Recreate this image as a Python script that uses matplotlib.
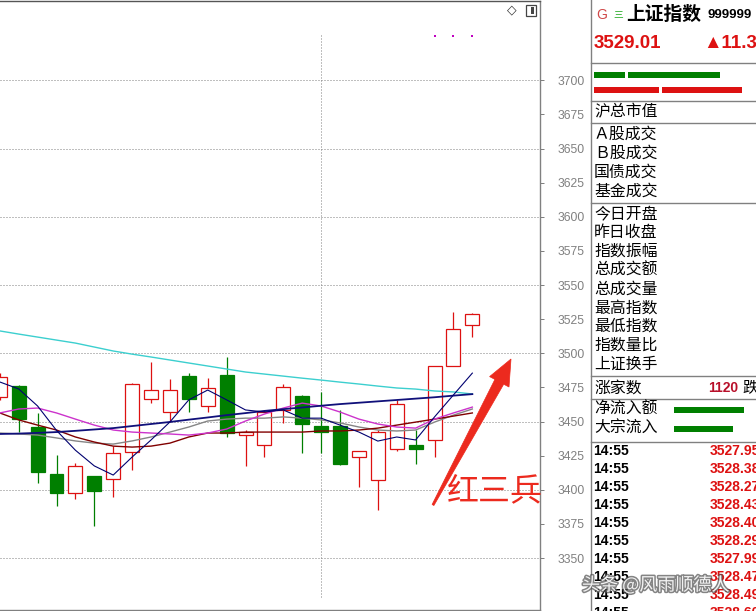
import numpy as np
import matplotlib
matplotlib.use('Agg')
import matplotlib.pyplot as plt
from matplotlib.patches import Polygon, Rectangle
import matplotlib.patheffects as pe

plt.rcParams['font.family'] = ['Noto Sans CJK SC', 'DejaVu Sans']

# daily candles, oldest first (index 0 is cut by the left edge)
opens  = [3468.0, 3475.9, 3446.0, 3411.5, 3397.6, 3410.1, 3407.9, 3427.7, 3466.6, 3457.0,
          3483.3, 3461.4, 3484.1, 3440.1, 3432.8, 3458.5, 3468.7, 3446.7, 3446.7, 3424.0,
          3407.2, 3429.8, 3432.8, 3436.4, 3490.7, 3520.7]
highs  = [3485.5, 3476.8, 3456.2, 3425.4, 3419.5, 3410.1, 3431.9, 3478.2, 3493.6, 3481.1,
          3485.5, 3481.9, 3497.3, 3443.7, 3458.4, 3477.5, 3469.4, 3471.7, 3458.5, 3428.4,
          3443.7, 3465.8, 3443.7, 3490.7, 3530.2, 3529.5]
lows   = [3465.8, 3442.3, 3405.0, 3388.0, 3393.2, 3373.4, 3394.7, 3414.5, 3463.6, 3449.6,
          3457.0, 3457.0, 3438.7, 3417.4, 3424.0, 3448.9, 3426.9, 3426.9, 3418.1, 3402.0,
          3385.1, 3428.4, 3418.8, 3424.0, 3490.7, 3511.9]
closes = [3482.6, 3451.8, 3413.0, 3397.6, 3417.4, 3399.1, 3426.8, 3477.5, 3473.1, 3473.1,
          3466.6, 3474.6, 3441.6, 3442.3, 3457.0, 3475.3, 3448.2, 3442.3, 3418.8, 3428.4,
          3442.3, 3462.8, 3429.8, 3490.7, 3517.7, 3529.0]

# moving averages
ma5   = [3479.0, 3473.9, 3461.4, 3443.5, 3429.0, 3417.5, 3410.8, 3424.0, 3436.5, 3449.7,
         3465.9, 3473.1, 3465.9, 3458.5, 3457.0, 3458.5, 3452.5, 3452.5, 3447.4, 3442.3,
         3435.7, 3438.7, 3436.5, 3453.4, 3469.5, 3485.5]
ma10  = [3456.3, 3459.2, 3459.9, 3456.3, 3451.8, 3447.4, 3443.8, 3442.3, 3441.6, 3440.9,
         3440.1, 3441.6, 3444.5, 3450.4, 3455.5, 3459.9, 3463.5, 3461.4, 3457.0, 3451.8,
         3448.2, 3446.0, 3445.2, 3451.8, 3456.3, 3460.6]
ma20  = [3456.3, 3451.2, 3447.4, 3443.8, 3438.7, 3435.0, 3432.0, 3431.3, 3432.0, 3434.2,
         3438.7, 3441.6, 3441.6, 3442.3, 3442.3, 3442.3, 3442.3, 3443.1, 3443.1, 3443.8,
         3445.2, 3447.4, 3449.6, 3451.8, 3454.0, 3456.3]
ma30  = [3441.6, 3440.9, 3440.1, 3438.0, 3435.8, 3434.2, 3433.5, 3435.8, 3438.7, 3442.3,
         3446.0, 3450.4, 3451.8, 3452.5, 3452.5, 3453.4, 3452.5, 3451.2, 3449.0, 3446.0,
         3443.8, 3443.1, 3443.8, 3449.6, 3454.7, 3459.2]
ma60  = [3440.9, 3441.2, 3441.7, 3442.3, 3443.2, 3444.2, 3445.2, 3446.7, 3448.2, 3449.7,
         3451.4, 3453.0, 3454.7, 3456.2, 3457.8, 3459.1, 3460.3, 3461.6, 3462.8, 3463.8,
         3464.8, 3465.8, 3466.8, 3467.8, 3469.0, 3470.1]
ma250 = [3516.4, 3514.1, 3511.9, 3509.7, 3507.5, 3504.6, 3501.7, 3499.4, 3497.3, 3495.1,
         3492.9, 3490.7, 3488.5, 3486.3, 3484.8, 3483.3, 3481.8, 3480.4, 3478.9, 3477.5,
         3476.0, 3474.6, 3473.8, 3472.4, 3471.7, 3470.2]

signal_idx = [23, 24, 25]
signal_val = 3732.5
month_split = 17

yticks = list(range(3350, 3701, 25))
grid_levels = list(range(3350, 3701, 50))

# right-hand quote panel
title_name = '上证指数'
title_code = '999999'
last_price = '3529.01'
change_txt = '▲11.3'
group1 = ['Ａ股成交', 'Ｂ股成交', '国债成交', '基金成交']
group2 = ['今日开盘', '昨日收盘', '指数振幅', '总成交额', '总成交量',
          '最高指数', '最低指数', '指数量比', '上证换手']
up_count = '1120'
flow_labels = ['净流入额', '大宗流入']
flow_bars = [70, 59]
green_bars = [31, 92]
red_bars = [65, 80]
tick_times = ['14:55'] * 10
tick_prices = ['3527.95', '3528.38', '3528.27', '3528.43', '3528.40',
               '3528.29', '3527.99', '3528.47', '3528.49', '3528.60']

RED = '#dd1111'
GREEN = '#007f00'
GRAY = '#808080'

W, H = 756, 611
fig = plt.figure(figsize=(W / 100, H / 100), dpi=100)

# main chart ---------------------------------------------------------------
ax = fig.add_axes([0, 1.5 / H, 540 / W, 609 / H])
ax.set_xlim(0.0106, 28.58)
ax.set_ylim(3312.3, 3758.5)

for lv in grid_levels:
    ax.axhline(lv, color=GRAY, lw=0.72, dashes=(1, 2), zorder=1)
ax.vlines(month_split, 3321.5, 3734.7, color=GRAY, lw=0.72, linestyles=(0, (1, 2)), zorder=1)

idx = np.arange(len(opens))
o = np.array(opens)
c = np.array(closes)
up = c >= o
edge = np.where(up, RED, GREEN)
face = np.where(up, 'white', GREEN)
ax.vlines(idx, lows, highs, colors=edge, lw=0.9, zorder=2)
ax.bar(idx, np.maximum(np.abs(c - o), 0.4), bottom=np.minimum(o, c), width=0.74,
       color=face, edgecolor=edge, lw=0.9, zorder=3)

ax.plot(idx, ma250, color='#3ccfcf', lw=1.0, zorder=4)
ax.plot(idx, ma30, color='#858585', lw=1.0, zorder=4)
ax.plot(idx, ma20, color='#800000', lw=1.0, zorder=4)
ax.plot(idx, ma10, color='#cc33cc', lw=1.0, zorder=4)
ax.plot(idx, ma60, color='#10107a', lw=1.3, zorder=4)
ax.plot(idx, ma5, color='#000070', lw=0.8, zorder=5)

ax.scatter(signal_idx, [signal_val] * len(signal_idx), s=3, marker='s',
           color='#c000c0', lw=0, zorder=5)

ax.yaxis.tick_right()
ax.set_yticks(yticks)
ax.set_xticks([])
ax.tick_params(axis='y', direction='out', length=2.9, width=0.72, color=GRAY,
               labelcolor=GRAY, labelsize=8.7, pad=10)
for lbl in ax.get_yticklabels():
    lbl.set_fontfamily('Liberation Sans')
ax.spines['left'].set_visible(False)
ax.spines['top'].set_color('#555555')
ax.spines['right'].set_color(GRAY)
ax.spines['bottom'].set_color(GRAY)
for s in ('top', 'right', 'bottom'):
    ax.spines[s].set_linewidth(1.0)

# overlay in pixel units for annotations and the quote panel --------------
ov = fig.add_axes([0, 0, 1, 1], zorder=10)
ov.set_xlim(0, W)
ov.set_ylim(H, 0)
ov.axis('off')
ov.patch.set_alpha(0)

# red arrow and label
arrow = Polygon([(432.1, 504.5), (494.9, 379.4), (489.6, 376.6), (511, 359),
                 (509.0, 387.0), (503.7, 384.2), (433.9, 505.5)],
                closed=True, fc='#ec2a1e', ec='#ec2a1e', lw=0.5)
ov.add_patch(arrow)
ov.text(447, 491, '红三兵', color='#ec2a1e', fontsize=23, ha='left', va='center')

# little icons top right of the chart
ov.text(512, 10, '◇', fontsize=9, ha='center', va='center', color='#333333',
        family='DejaVu Sans')
ov.add_patch(Rectangle((525.5, 5), 10, 11, fill=False, ec='#444444', lw=0.9))
ov.add_patch(Rectangle((530.5, 7), 3, 7, fc='#444444', ec='none'))

# panel frame
ov.plot([591, 591], [0, H], color=GRAY, lw=1.0)
for yy in (63, 101, 123, 202.5, 376, 399, 441.5):
    ov.plot([591, W], [yy, yy], color=GRAY, lw=1.0)

ov.text(596, 15, 'G', color='#d04848', fontsize=10, va='center', family='Liberation Sans')
ov.text(613, 15, '三', color='#22aa22', fontsize=7, va='center')
ov.text(626, 14, title_name, color='black', fontsize=13.5, fontweight='bold', va='center')
ov.text(707, 15, title_code, color='black', fontsize=9.5, fontweight='bold', va='center',
        family='Liberation Sans')
ov.text(594, 44, last_price, color=RED, fontsize=13.5, fontweight='bold', va='center',
        family='Liberation Sans')
ov.text(703, 44, change_txt, color=RED, fontsize=13.5, fontweight='bold', va='center',
        family=['Liberation Sans', 'DejaVu Sans'])

left = 594
for w in green_bars:
    ov.barh(74.7, w, left=left, height=6, color=GREEN)
    left += w + 3
left = 594
for w in red_bars:
    ov.barh(90.3, w, left=left, height=6, color=RED)
    left += w + 3

FS = 11.4
ov.text(594, 112, '沪总市值', fontsize=FS, va='center')
for k, t in enumerate(group1):
    ov.text(594, 134 + 19 * k, t, fontsize=FS, va='center')
for k, t in enumerate(group2):
    ov.text(594, 214 + 18.75 * k, t, fontsize=FS, va='center')
ov.text(594, 388, '涨家数', fontsize=FS, va='center')
ov.text(708, 388, up_count, color='#b8102a', fontsize=10, fontweight='bold', va='center',
        family='Liberation Sans')
ov.text(742, 388, '跌', fontsize=FS, va='center')
for k, (t, w) in enumerate(zip(flow_labels, flow_bars)):
    yy = 409.5 + 19 * k
    ov.text(594, yy, t, fontsize=FS, va='center')
    ov.barh(yy, w, left=674, height=6, color=GREEN)

for k, (t, p) in enumerate(zip(tick_times, tick_prices)):
    yy = 451 + 18 * k
    ov.text(593, yy, t, fontsize=10, fontweight='bold', va='center', family='Liberation Sans')
    ov.text(710, yy, p, color=RED, fontsize=10, fontweight='bold', va='center',
            family='Liberation Sans')

# watermark
ov.text(582, 585, '头条 @风雨顺德人', fontsize=13, color='white', alpha=0.9, va='center',
        path_effects=[pe.withStroke(linewidth=2.2, foreground='#505050', alpha=0.7)])

fig.savefig('out.png', dpi=100)
